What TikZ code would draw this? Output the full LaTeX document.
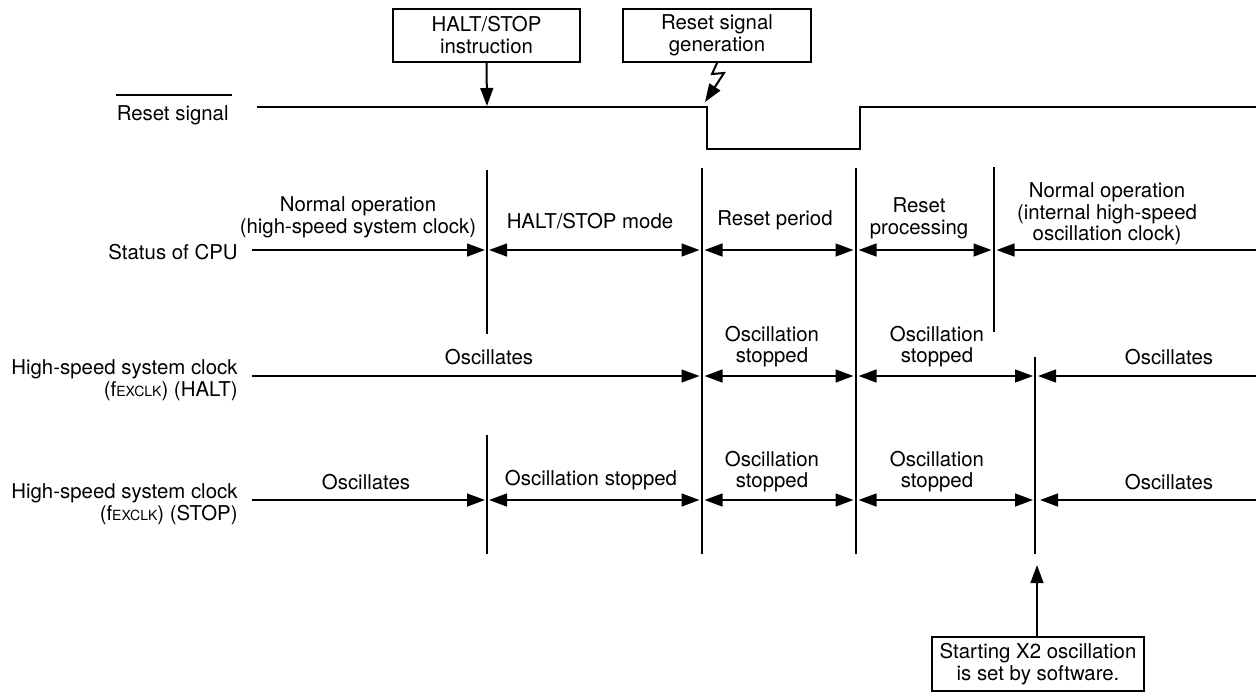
\documentclass[tikz,border=0pt]{standalone}
\usepackage{fontspec}
\setmainfont{TeX Gyre Heros}
\usetikzlibrary{arrows.meta}
\newcommand{\fexclk}{f{\fontsize{7}{7}\selectfont EXCLK}}
\begin{document}
\begin{tikzpicture}[x=0.5pt,y=-0.5pt,
  >={Triangle[length=9pt,width=6.4pt]},
  every node/.style={font=\fontsize{10.2}{10.75}\selectfont, inner sep=0pt, align=center},
  span/.style={line width=1pt},
  bound/.style={line width=0.85pt},
  wave/.style={line width=1.35pt, line join=miter},
  callout/.style={draw, line width=1pt, minimum height=26.75pt, inner sep=0pt},
]
\useasboundingbox (0,0) rectangle (1256,691);

% ---- row labels ----
\node[anchor=base east] (lrst) at (229,120) {Reset signal};
\draw[line width=1pt] ([yshift=5pt]lrst.north west) -- ([yshift=5pt,xshift=1.5pt]lrst.north east);
\node[anchor=base east] (lcpu) at (238,259) {Status of CPU};
\node[anchor=north east, align=right] (lhalt) at (238,359.5) {High-speed system clock\\(\fexclk) (HALT)};
\node[anchor=north east, align=right] (lstop) at (238,483.5) {High-speed system clock\\(\fexclk) (STOP)};

% ---- reset waveform ----
\coordinate (w0) at (257,107);
\coordinate (wfall) at (707,107);
\coordinate (wlow1) at (707,149);
\coordinate (wlow2) at (860,149);
\coordinate (wrise) at (860,107);
\coordinate (w1) at (1256,107);
\draw[wave] (w0) -- (wfall) -- (wlow1) -- (wlow2) -- (wrise) -- (w1);

% ---- event boxes ----
\node[callout, minimum width=93.5pt] (halt) at (486.5,35.25) {HALT/STOP\\instruction};
\node[callout, minimum width=94pt] (rsg) at (717,35.25) {Reset signal\\generation};
\node[callout, minimum width=106pt] (x2) at (1038,664) {Starting X2 oscillation\\is set by software.};

\coordinate (haltin) at (487,106);
\coordinate (rsin) at (705,102);
\coordinate (x2in) at (1037,565);
\draw[span,->] (halt.south) -- (haltin);
\draw[span,->,line join=miter] (rsg.south) -- (712,74) -- (724,73) -- (rsin);
\draw[span,->] (x2.north -| x2in) -- (x2in);

% ---- boundaries ----
\draw[bound] (487,170) -- (487,334);
\draw[bound] (487,435) -- (487,554);
\draw[bound] (702,168) -- (702,554);
\draw[bound] (856,168) -- (856,554);
\draw[bound] (994,167) -- (994,332);
\draw[bound] (1035,357) -- (1035,554);

% ---- status of CPU ----
\coordinate (c0) at (252,250);
\coordinate (c1) at (485,250);
\coordinate (c2) at (489,250);
\coordinate (c3) at (699.5,250);
\coordinate (c4) at (704.5,250);
\coordinate (c5) at (853.5,250);
\coordinate (c6) at (858.5,250);
\coordinate (c7) at (991.5,250);
\coordinate (c8) at (996.5,250);
\coordinate (c9) at (1256,250);
\draw[span,->] (c0) -- (c1);
\draw[span,<->] (c2) -- (c3);
\draw[span,<->] (c4) -- (c5);
\draw[span,<->] (c6) -- (c7);
\draw[span,<-] (c8) -- (c9);
\node[anchor=north] at (358,196.5) {Normal operation\\(high-speed system clock)};
\node[anchor=base] at (590,228) {HALT/STOP mode};
\node[anchor=base] at (775,225) {Reset period};
\node[anchor=north] at (919,197.5) {Reset\\processing};
\node[anchor=north] at (1107,182.5) {Normal operation\\(internal high-speed\\oscillation clock)};

% ---- high-speed system clock (HALT) ----
\coordinate (h0) at (252,376);
\coordinate (h1) at (699.5,376);
\coordinate (h2) at (704.5,376);
\coordinate (h3) at (853.5,376);
\coordinate (h4) at (858.5,376);
\coordinate (h5) at (1033,376);
\coordinate (h6) at (1038,376);
\coordinate (h7) at (1256,376);
\draw[span,->] (h0) -- (h1);
\draw[span,<->] (h2) -- (h3);
\draw[span,<->] (h4) -- (h5);
\draw[span,<-] (h6) -- (h7);
\node[anchor=base] at (489,364) {Oscillates};
\node[anchor=north] at (772,325.5) {Oscillation\\stopped};
\node[anchor=north] at (937,325.5) {Oscillation\\stopped};
\node[anchor=base] at (1169,364) {Oscillates};

% ---- high-speed system clock (STOP) ----
\coordinate (s0) at (252,500);
\coordinate (s1) at (485,500);
\coordinate (s2) at (489,500);
\coordinate (s3) at (699.5,500);
\coordinate (s4) at (704.5,500);
\coordinate (s5) at (853.5,500);
\coordinate (s6) at (858.5,500);
\coordinate (s7) at (1033,500);
\coordinate (s8) at (1040,500);
\coordinate (s9) at (1256,500);
\draw[span,->] (s0) -- (s1);
\draw[span,<->] (s2) -- (s3);
\draw[span,<->] (s4) -- (s5);
\draw[span,<->] (s6) -- (s7);
\draw[span,<-] (s8) -- (s9);
\node[anchor=base] at (366,489) {Oscillates};
\node[anchor=base] at (591,485) {Oscillation stopped};
\node[anchor=north] at (772,450.5) {Oscillation\\stopped};
\node[anchor=north] at (937,450.5) {Oscillation\\stopped};
\node[anchor=base] at (1169,489) {Oscillates};
\end{tikzpicture}
\end{document}
